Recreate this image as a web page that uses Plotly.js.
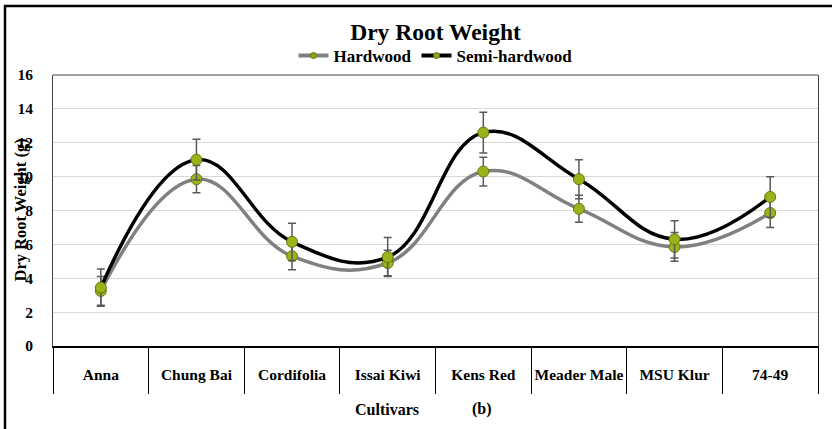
<!DOCTYPE html>
<html>
<head>
<meta charset="utf-8">
<script src="https://cdn.plot.ly/plotly-3.0.1.min.js"></script>
<style>html,body{margin:0;padding:0;background:#fff;}#chart{width:832px;height:429px;}</style>
</head>
<body>
<div id="chart"></div>
<script>
const categories = ["Anna", "Chung Bai", "Cordifolia", "Issai Kiwi", "Kens Red", "Meader Male", "MSU Klur", "74-49"];
const hardwood = [3.25, 9.85, 5.3, 4.9, 10.3, 8.1, 5.85, 7.85];
const hardwoodErr = [0.85, 0.8, 0.8, 0.75, 0.85, 0.8, 0.85, 0.85];
const semiHardwood = [3.45, 11.0, 6.15, 5.25, 12.6, 9.85, 6.3, 8.8];
const semiHardwoodErr = [1.1, 1.2, 1.1, 1.15, 1.2, 1.15, 1.1, 1.2];
const yTicks = [0, 2, 4, 6, 8, 10, 12, 14, 16];

const FONT = "'Liberation Serif', 'Times New Roman', serif";
const markerStyle = {symbol: "circle", size: 11, color: "#9bb21a", line: {color: "#66760f", width: 1}};
const legendMarker = {symbol: "circle", size: 6, color: "#8fa315", line: {color: "#66760f", width: 1}};
const errStyle = {type: "data", visible: true, color: "#595959", thickness: 1.5, width: 4};

const traces = [
  {
    x: categories, y: hardwood, name: "Hardwood", type: "scatter", mode: "lines+markers",
    line: {color: "#808080", width: 3.5, shape: "spline", smoothing: 1.2},
    marker: markerStyle, showlegend: false,
    error_y: Object.assign({array: hardwoodErr}, errStyle)
  },
  {
    x: categories, y: semiHardwood, name: "Semi-hardwood", type: "scatter", mode: "lines+markers",
    line: {color: "#000000", width: 3.5, shape: "spline", smoothing: 1.2},
    marker: markerStyle, showlegend: false,
    error_y: Object.assign({array: semiHardwoodErr}, errStyle)
  },
  {
    x: [categories[0]], y: [null], name: "Hardwood", type: "scatter", mode: "lines+markers",
    line: {color: "#808080", width: 4}, marker: legendMarker, showlegend: true, hoverinfo: "skip"
  },
  {
    x: [categories[0]], y: [null], name: "Semi-hardwood", type: "scatter", mode: "lines+markers",
    line: {color: "#000000", width: 4}, marker: legendMarker, showlegend: true, hoverinfo: "skip"
  }
];

const W = 832, H = 429;
const mL = 53, mR = 14, mT = 75, mB = 37;
const plotW = W - mL - mR, plotH = H - mT - mB;
const px2x = p => (p - mL) / plotW;
const px2y = p => (H - mB - p) / plotH;
const zeroPx = 346;
const yDomainStart = px2y(zeroPx);

const layout = {
  width: W, height: H,
  margin: {l: mL, r: mR, t: mT, b: mB, pad: 0},
  paper_bgcolor: "#ffffff", plot_bgcolor: "#ffffff",
  font: {family: FONT, color: "#000000", size: 14, weight: "bold"},
  title: {
    text: "Dry Root Weight",
    font: {family: FONT, size: 23.5, color: "#000000", weight: "bold"},
    x: 0.5, xref: "paper", xanchor: "center",
    y: 1 - 32 / H, yref: "container", yanchor: "middle"
  },
  showlegend: true,
  legend: {
    orientation: "h", x: 0.5, xanchor: "center", y: px2y(56), yanchor: "middle",
    font: {family: FONT, size: 17, color: "#000000", weight: "bold"},
    bgcolor: "rgba(0,0,0,0)", traceorder: "normal"
  },
  xaxis: {
    type: "category", categoryorder: "array", categoryarray: categories,
    range: [-0.5, categories.length - 0.5],
    tickson: "boundaries", ticks: "outside", ticklen: 46, tickwidth: 1, tickcolor: "#000000",
    showline: true, linecolor: "#000000", linewidth: 2,
    showgrid: false, zeroline: false,
    tickangle: 0,
    ticklabelstandoff: 13,
    tickfont: {family: FONT, size: 15.5, color: "#000000", weight: "bold"},
    fixedrange: true
  },
  yaxis: {
    domain: [yDomainStart, 1],
    range: [0, 16], tickvals: yTicks, ticktext: yTicks.map(String),
    showgrid: true, gridcolor: "#d9d9d9", gridwidth: 1,
    showline: true, linecolor: "#404040", linewidth: 1, mirror: true,
    zeroline: false, ticks: "",
    ticklabelstandoff: 16,
    tickfont: {family: FONT, size: 15.5, color: "#000000", weight: "bold"},
    fixedrange: true
  },
  shapes: [
    {type: "line", xref: "paper", yref: "paper", x0: 0, x1: 1, y0: 1, y1: 1, line: {color: "#404040", width: 1}},
    {type: "rect", xref: "paper", yref: "paper", x0: px2x(5), x1: px2x(845), y0: px2y(6), y1: px2y(440), line: {color: "#000000", width: 2.5}, fillcolor: "rgba(0,0,0,0)", layer: "below"}
  ],
  annotations: [
    {text: "Dry Root Weight (g)", xref: "paper", yref: "paper", x: px2x(20), y: (yDomainStart + 1) / 2,
     textangle: -90, showarrow: false, xanchor: "center", yanchor: "middle",
     font: {family: FONT, size: 16.5, color: "#000000", weight: "bold"}},
    {text: "Cultivars", xref: "paper", yref: "paper", x: px2x(387), y: px2y(409), showarrow: false,
     xanchor: "center", yanchor: "middle", font: {family: FONT, size: 16, color: "#000000", weight: "bold"}},
    {text: "(b)", xref: "paper", yref: "paper", x: px2x(482), y: px2y(409), showarrow: false,
     xanchor: "center", yanchor: "middle", font: {family: FONT, size: 16, color: "#000000", weight: "bold"}}
  ]
};

Plotly.newPlot("chart", traces, layout, {displayModeBar: false, staticPlot: true});
</script>
</body>
</html>
